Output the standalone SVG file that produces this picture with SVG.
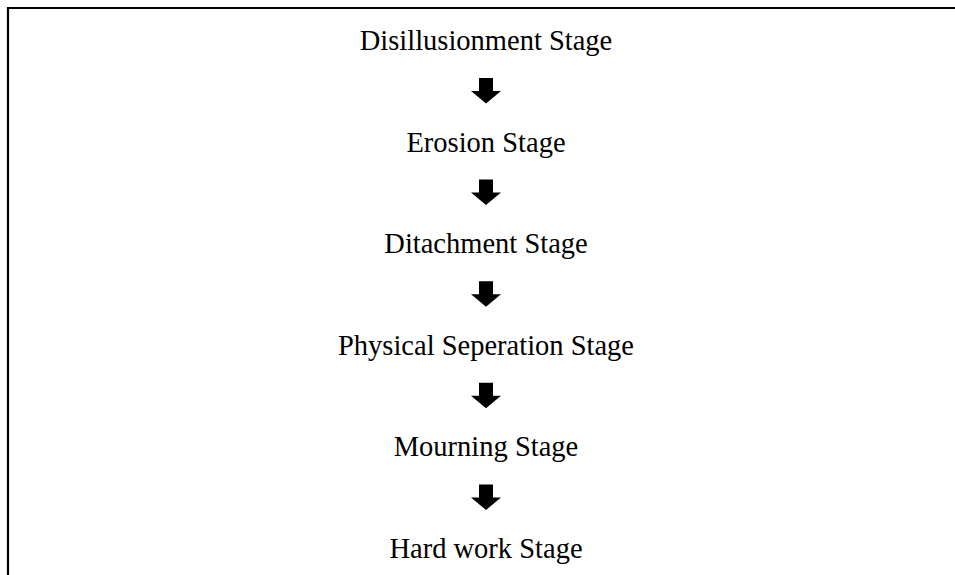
<svg xmlns="http://www.w3.org/2000/svg" width="955" height="575" viewBox="0 0 955 575">
<defs>
<style>
.lbl{font-family:"Liberation Serif","Times New Roman",serif;font-size:28.5px;fill:#000;text-anchor:middle}
.arr{fill:#000}
.frame{fill:none;stroke:#000;stroke-width:2.2}
</style>
<path id="a" d="M479,0 H493 V13 H501 L486,25.5 L471,13 H479 Z"/>
</defs>
<rect width="955" height="575" fill="#fff"/>
<path class="frame" d="M8,575 V8 H955"/>
<g id="connectors">
<use href="#a" class="arr" y="78"/>
<use href="#a" class="arr" y="179.6"/>
<use href="#a" class="arr" y="281.2"/>
<use href="#a" class="arr" y="382.8"/>
<use href="#a" class="arr" y="484.4"/>
</g>
<g id="n1"><text class="lbl" x="486" y="50">Disillusionment Stage</text></g>
<g id="n2"><text class="lbl" x="486" y="151.6">Erosion Stage</text></g>
<g id="n3"><text class="lbl" x="486" y="253.2">Ditachment Stage</text></g>
<g id="n4"><text class="lbl" x="486" y="354.8">Physical Seperation Stage</text></g>
<g id="n5"><text class="lbl" x="486" y="456.4">Mourning Stage</text></g>
<g id="n6"><text class="lbl" x="486" y="558">Hard work Stage</text></g>
</svg>
